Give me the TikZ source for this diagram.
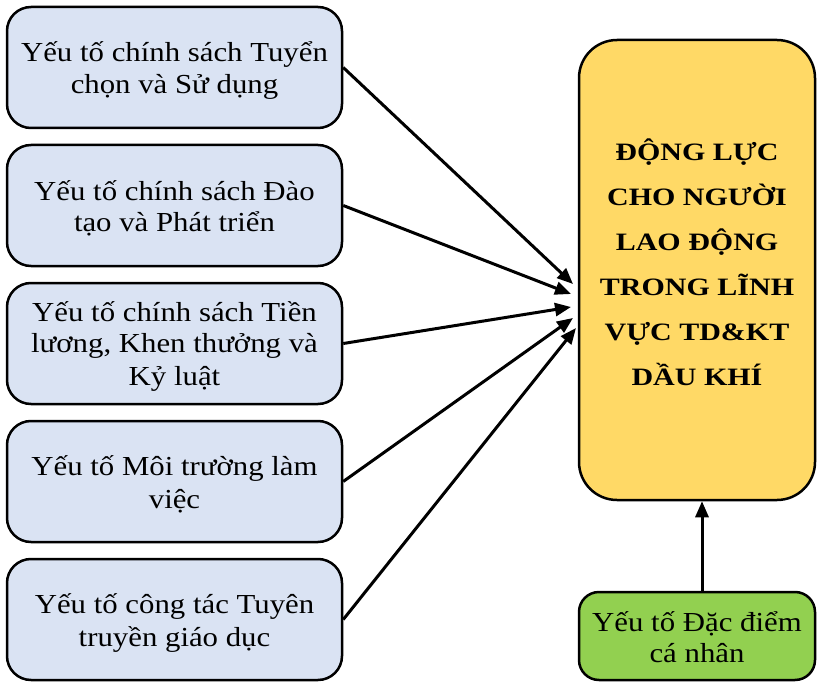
\documentclass[tikz,border=0pt]{standalone}
\usepackage{fontspec}
\setmainfont{Liberation Serif}[FakeStretch=1.12]
\newfontfamily\goalfont{Liberation Serif}[FakeStretch=1.2]
\usetikzlibrary{arrows.meta}
\definecolor{boxblue}{HTML}{DAE3F3}
\definecolor{boxyellow}{HTML}{FFD966}
\definecolor{boxgreen}{HTML}{92D050}
\newcommand{\ls}{\rule[-5pt]{0pt}{31pt}}
\newcommand{\gs}{\rule[-20pt]{0pt}{45pt}}
\begin{document}
\begin{tikzpicture}[x=1pt,y=-1pt,
  factor/.style={draw=black, line width=2.5pt, fill=boxblue, rounded corners=24pt,
    minimum width=335pt, minimum height=121pt, inner sep=0pt, align=center,
    font=\fontsize{27.5}{31}\selectfont},
  goal/.style={draw=black, line width=2.5pt, fill=boxyellow, rounded corners=38pt,
    minimum width=236pt, minimum height=460pt, inner sep=0pt, align=center,
    font=\goalfont\fontsize{25}{45}\selectfont\bfseries},
  personal/.style={draw=black, line width=2.5pt, fill=boxgreen, rounded corners=20pt,
    minimum width=236pt, minimum height=88pt, inner sep=0pt, align=center,
    font=\fontsize{27.5}{31}\selectfont},
  link/.style={line width=3pt, -{Triangle[length=16pt,width=13pt]}}]
\useasboundingbox (0,0) rectangle (817,682);
\node[factor] (b1) at (174.5,67.5) {\ls Yếu tố chính sách Tuyển\\\ls chọn và Sử dụng};
\node[factor] (b2) at (174.5,205.5) {\ls Yếu tố chính sách Đào\\\ls tạo và Phát triển};
\node[factor] (b3) at (174.5,343.5) {\ls Yếu tố chính sách Tiền\\\ls lương, Khen thưởng và\\\ls Kỷ luật};
\node[factor] (b4) at (174.5,481.5) {\ls Yếu tố Môi trường làm\\\ls việc};
\node[factor] (b5) at (174.5,619.5) {\ls Yếu tố công tác Tuyên\\\ls truyền giáo dục};
\node[goal] (g) at (697,270) {\gs ĐỘNG LỰC\\\gs CHO NGƯỜI\\\gs LAO ĐỘNG\\\gs TRONG LĨNH\\\gs VỰC TD\&KT\\\gs DẦU KHÍ};
\node[personal] (p) at (697,636) {\ls Yếu tố Đặc điểm\\\ls cá nhân};
\coordinate (t1) at (573,284);
\coordinate (t2) at (571,294);
\coordinate (t3) at (571,307);
\coordinate (t4) at (573,318);
\coordinate (t5) at (576,328);
\draw[link] (b1.east) -- (t1);
\draw[link] (b2.east) -- (t2);
\draw[link] (b3.east) -- (t3);
\draw[link] (b4.east) -- (t4);
\draw[link] (b5.east) -- (t5);
\draw[link] ([xshift=5pt]p.north) -- ([xshift=5pt]g.south);
\end{tikzpicture}
\end{document}
